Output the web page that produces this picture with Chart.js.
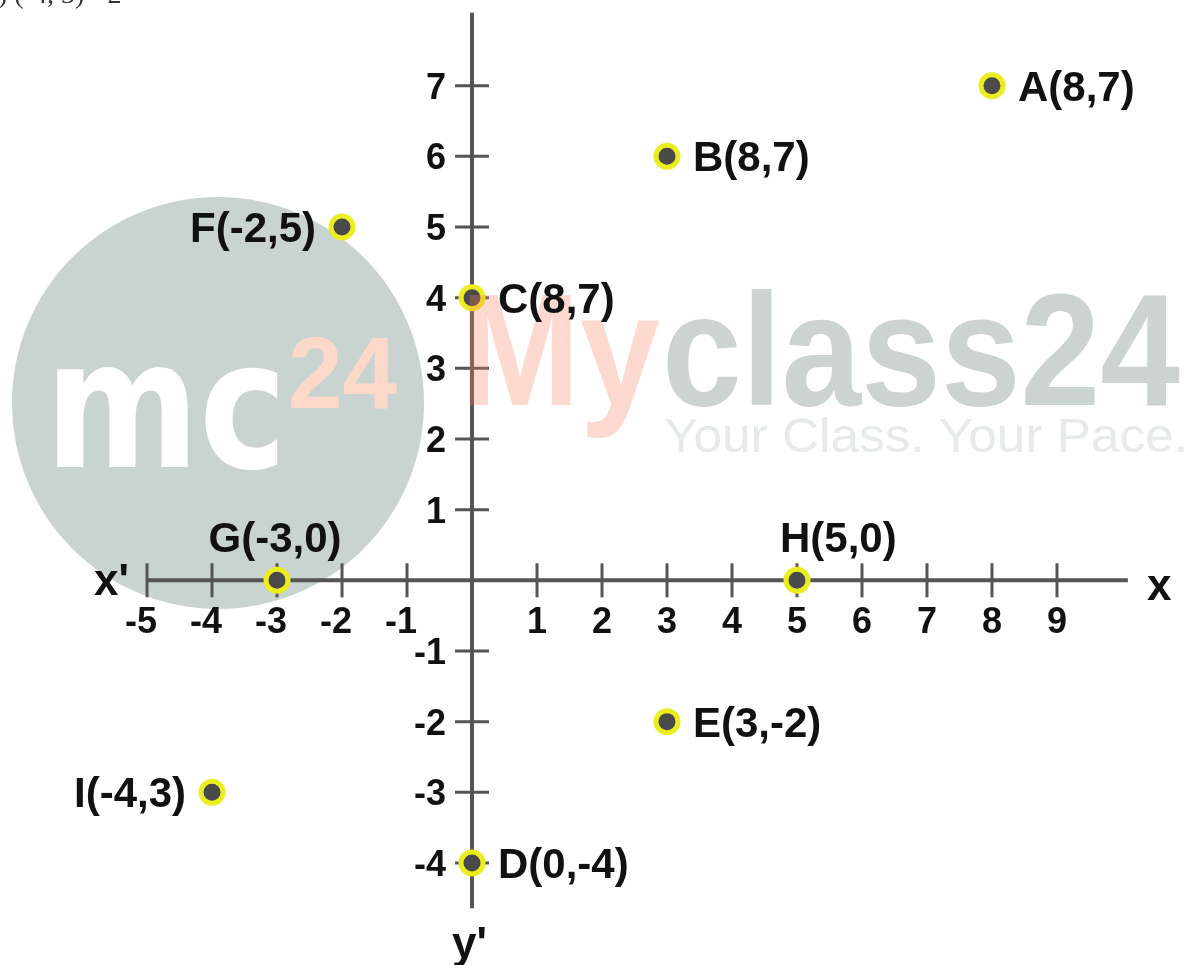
<!DOCTYPE html>
<html>
<head>
<meta charset="utf-8">
<script src="https://cdn.jsdelivr.net/npm/chart.js@4.4.1/dist/chart.umd.min.js"></script>
<style>
html,body{margin:0;padding:0;background:#ffffff;overflow:hidden}
#wrap{position:relative;width:1194px;height:965px}
</style>
</head>
<body>
<div id="wrap"><canvas id="c"></canvas></div>
<script>
// ---- data ----
const pointNames  = ['A','B','C','D','E','F','G','H','I'];
const xValues     = [8, 3, 0, 0, 3, -2, -3, 5, -4];
const yValues     = [7, 6, 4, -4, -2, 5, 0, 0, -3];
const pointLabels = ['A(8,7)','B(8,7)','C(8,7)','D(0,-4)','E(3,-2)','F(-2,5)','G(-3,0)','H(5,0)','I(-4,3)'];
const labelSide   = ['right','right','right','right','right','left','above','aboveRight','left'];
const xTickValues = [-5,-4,-3,-2,-1,1,2,3,4,5,6,7,8,9];
const xTickLabels = ['-5','-4','-3','-2','-1','1','2','3','4','5','6','7','8','9'];
const yTickValues = [-4,-3,-2,-1,1,2,3,4,5,6,7];
const yTickLabels = ['-4','-3','-2','-1','1','2','3','4','5','6','7'];
const xAxisExtent = [-5, 10.09];
const yAxisExtent = [-4.64, 8.03];
const xAxisNames  = ["x'", 'x'];
const yAxisNames  = ["y'"];
const headerText  = ') (-4, 3) - 2';

const FONT = '"Liberation Sans", Arial, Helvetica, sans-serif';

function fitText(ctx, text, x, y, width, size, weight, color, family) {
  ctx.save();
  ctx.font = weight + ' ' + size + 'px ' + (family || FONT);
  const w = ctx.measureText(text).width;
  ctx.translate(x, y);
  ctx.scale(width / w, 1);
  ctx.fillStyle = color;
  ctx.textAlign = 'left';
  ctx.textBaseline = 'alphabetic';
  ctx.fillText(text, 0, 0);
  ctx.restore();
}

const axesPlugin = {
  id: 'cartesianAxes',
  beforeDatasetsDraw(chart) {
    const ctx = chart.ctx, xs = chart.scales.x, ys = chart.scales.y;
    const X = v => xs.getPixelForValue(v), Y = v => ys.getPixelForValue(v);
    ctx.save();
    // watermark background
    ctx.fillStyle = '#c9d3d0';
    ctx.beginPath(); ctx.arc(218, 403, 206, 0, Math.PI * 2); ctx.fill();
    fitText(ctx, 'mc', 45, 467, 242, 179, 'bold', '#ffffff', '"DejaVu Sans", sans-serif');
    fitText(ctx, '24', 288, 408, 109, 102, 'bold', '#fbd8c8');
    fitText(ctx, 'class24', 662, 405, 518, 160, 'bold', '#cbd4d1');
    fitText(ctx, 'Your Class. Your Pace.', 664, 452, 524, 48, 'normal', '#e6eae9');

    // axes
    ctx.strokeStyle = '#555555';
    ctx.lineCap = 'butt';
    ctx.lineWidth = 4;
    ctx.beginPath(); ctx.moveTo(X(xAxisExtent[0]), Y(0)); ctx.lineTo(X(xAxisExtent[1]), Y(0)); ctx.stroke();
    ctx.beginPath(); ctx.moveTo(X(0), Y(yAxisExtent[1])); ctx.lineTo(X(0), Y(yAxisExtent[0])); ctx.stroke();
    ctx.lineWidth = 3;
    xTickValues.forEach(v => { ctx.beginPath(); ctx.moveTo(X(v), Y(0) - 17); ctx.lineTo(X(v), Y(0) + 17); ctx.stroke(); });
    yTickValues.forEach(v => { ctx.beginPath(); ctx.moveTo(X(0) - 17, Y(v)); ctx.lineTo(X(0) + 17, Y(v)); ctx.stroke(); });

    // tick labels
    ctx.fillStyle = '#111111';
    ctx.font = 'bold 36px ' + FONT;
    ctx.textBaseline = 'alphabetic';
    ctx.textAlign = 'right';
    xTickValues.forEach((v, i) => {
      const t = xTickLabels[i];
      const dw = ctx.measureText(t.replace('-', '')).width;
      ctx.fillText(t, X(v) + dw / 2, Y(0) + 53);
    });
    yTickValues.forEach((v, i) => {
      ctx.fillText(yTickLabels[i], X(0) - 26, Y(v) + 13);
    });

    // axis names
    ctx.font = 'bold 44px ' + FONT;
    ctx.textAlign = 'left';
    ctx.fillText(xAxisNames[0], 94, Y(0) + 15);
    ctx.fillText(xAxisNames[1], 1147, Y(0) + 20);
    ctx.fillText(yAxisNames[0], X(0) - 20, 958);

    // header snippet (cut at top edge)
    ctx.font = 'normal 28px "Liberation Serif", "Times New Roman", serif';
    ctx.fillStyle = '#333333';
    ctx.fillText(headerText, -2, 3);
    ctx.restore();
  },
  afterDatasetsDraw(chart) {
    const ctx = chart.ctx, xs = chart.scales.x, ys = chart.scales.y;
    const X = v => xs.getPixelForValue(v), Y = v => ys.getPixelForValue(v);
    ctx.save();
    // "My" watermark over the axis
    fitText(ctx, 'My', 460, 405, 200, 160, 'bold', 'rgba(250,130,100,0.30)');
    ctx.fillStyle = '#111111';
    ctx.font = 'bold 42px ' + FONT;
    ctx.textBaseline = 'alphabetic';
    xValues.forEach((xv, i) => {
      const px = X(xv), py = Y(yValues[i]);
      const t = pointLabels[i];
      const side = labelSide[i];
      if (side === 'right') { ctx.textAlign = 'left'; ctx.fillText(t, px + 26, py + 15); }
      else if (side === 'left') { ctx.textAlign = 'right'; ctx.fillText(t, px - 26, py + 15); }
      else if (side === 'above') { ctx.textAlign = 'center'; ctx.fillText(t, px - 2, py - 28); }
      else { ctx.textAlign = 'left'; ctx.fillText(t, px - 17, py - 28); }
    });
    ctx.restore();
  }
};

new Chart(document.getElementById('c'), {
  type: 'scatter',
  data: {
    labels: pointNames,
    datasets: [{
      data: xValues.map((x, i) => ({ x: x, y: yValues[i] })),
      pointRadius: 11,
      pointHoverRadius: 11,
      borderWidth: 5,
      borderColor: '#eced1f',
      backgroundColor: '#4a4a4a',
      showLine: false,
      clip: false
    }]
  },
  options: {
    responsive: true,
    maintainAspectRatio: false,
    animation: false,
    events: [],
    layout: { padding: 0, autoPadding: false },
    plugins: { legend: { display: false }, tooltip: { enabled: false } },
    scales: {
      x: { type: 'linear', display: false, min: -7.262, max: 11.108 },
      y: { type: 'linear', display: false, min: -5.444, max: 8.212 }
    }
  },
  plugins: [axesPlugin]
});
</script>
</body>
</html>
